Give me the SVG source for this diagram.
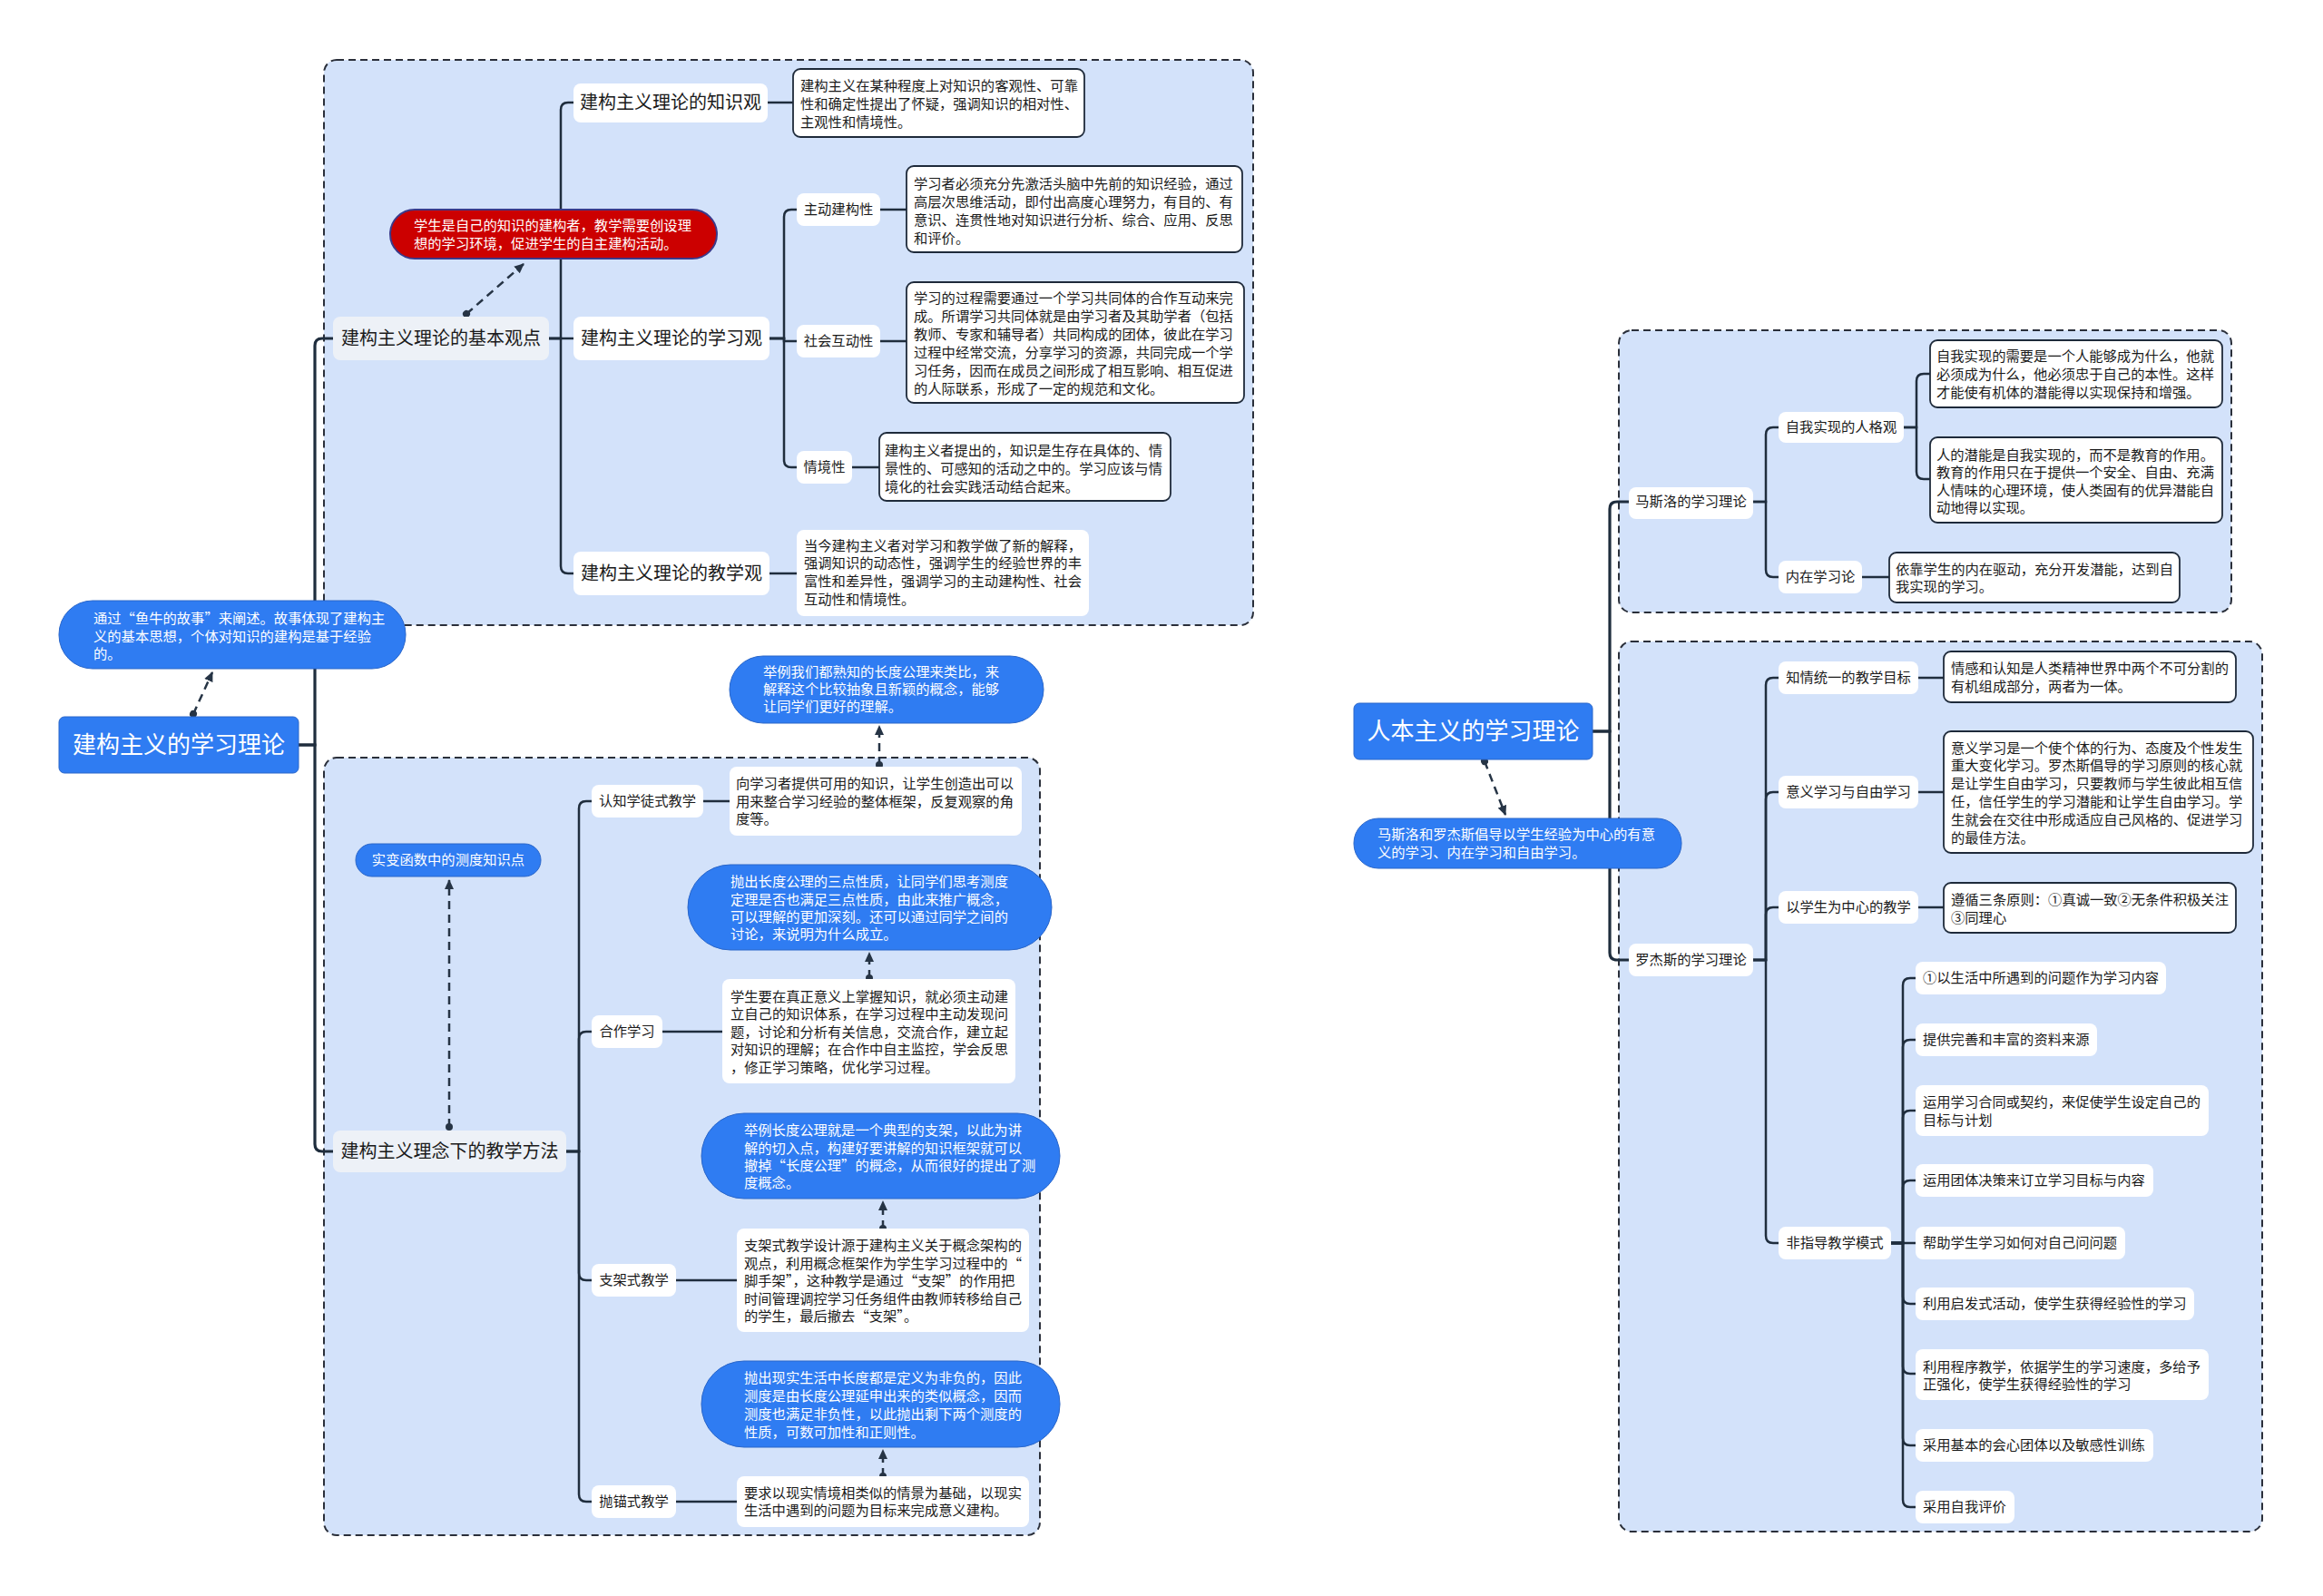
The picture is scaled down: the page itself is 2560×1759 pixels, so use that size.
<svg xmlns="http://www.w3.org/2000/svg" width="2560" height="1759" viewBox="0 0 2560 1759">
<style>
.bg{fill:#ffffff}
.grp{fill:#d3e2fa;stroke:#2a2f3a;stroke-width:2;stroke-dasharray:8 5}
.lbl{fill:#ffffff}
.lblg{fill:#edf1f7}
.desc{fill:#ffffff;stroke:#1e2a3a;stroke-width:1.8}
.plain{fill:#ffffff}
.blue{fill:#2f7cf2;stroke:#2a66c9;stroke-width:1}
.red{fill:#cc0000;stroke:#3b3a8a;stroke-width:2}
text{font-family:"Noto Sans CJK SC","Noto Sans",sans-serif}
.t15{font-size:15.3px;fill:#1a1a1a}
.w15{font-size:15.3px;fill:#ffffff}
.t20{font-size:20px;fill:#1a1a1a}
.t26{font-size:26px;fill:#ffffff}
.mid{text-anchor:middle}
.ln{fill:none;stroke:#1f2d3d;stroke-width:2.5}
.ln3{fill:none;stroke:#1f2d3d;stroke-width:3.2}
.dash{fill:none;stroke:#263445;stroke-width:2.5;stroke-dasharray:9 6;marker-start:url(#dot);marker-end:url(#arr)}
</style>
<defs>
<marker id="arr" markerUnits="userSpaceOnUse" markerWidth="12" markerHeight="12" viewBox="0 0 12 12" refX="10" refY="6" orient="auto"><path d="M0 1 L11 6 L0 11 Z" fill="#263445"/></marker>
<marker id="dot" markerUnits="userSpaceOnUse" markerWidth="10" markerHeight="10" viewBox="0 0 10 10" refX="5" refY="5" orient="auto"><circle cx="5" cy="5" r="4" fill="#263445"/></marker>
</defs>
<rect class="bg" x="0" y="0" width="2560" height="1759"/>

<g id="group-top-left"><rect class="grp" x="357" y="66" width="1024" height="623" rx="14"/></g>
<g id="group-bottom-left"><rect class="grp" x="357" y="835" width="789" height="857" rx="14"/></g>
<g id="group-top-right"><rect class="grp" x="1784" y="364" width="675" height="311" rx="14"/></g>
<g id="group-bottom-right"><rect class="grp" x="1784" y="707" width="709" height="981" rx="14"/></g>

<g id="connectors">
<path class="ln3" d="M329 821 H347 V381 Q347 373 355 373 H367"/>
<path class="ln3" d="M329 821 H347 V1261 Q347 1269 355 1269 H367"/>
<path class="ln" d="M605 373 H618 V121 Q618 113 626 113 H632"/>
<path class="ln" d="M605 373 H632"/>
<path class="ln" d="M605 373 H618 V624 Q618 632 626 632 H632"/>
<path class="ln" d="M846 113 H874"/>
<path class="ln" d="M848 373 H864 V239 Q864 231 872 231 H878"/>
<path class="ln" d="M848 373 H864 V376 H878"/>
<path class="ln" d="M848 373 H864 V507 Q864 515 872 515 H878"/>
<path class="ln" d="M970 231 H999"/>
<path class="ln" d="M970 376 H999"/>
<path class="ln" d="M939 515 H969"/>
<path class="ln" d="M848 632 H878"/>
<path class="ln" d="M624 1269 H638 V891 Q638 883 646 883 H652"/>
<path class="ln" d="M624 1269 H638 V1145 Q638 1137 646 1137 H652"/>
<path class="ln" d="M624 1269 H638 V1403 Q638 1411 646 1411 H652"/>
<path class="ln" d="M624 1269 H638 V1647 Q638 1655 646 1655 H652"/>
<path class="ln" d="M775 883 H804"/>
<path class="ln" d="M730 1137 H796"/>
<path class="ln" d="M745 1411 H812"/>
<path class="ln" d="M745 1655 H812"/>
<path class="ln3" d="M1755 806 H1774 V561 Q1774 553 1782 553 H1795"/>
<path class="ln3" d="M1755 806 H1774 V1050 Q1774 1058 1782 1058 H1795"/>
<path class="ln" d="M1932 553 H1946 V479 Q1946 471 1954 471 H1960"/>
<path class="ln" d="M1932 553 H1946 V628 Q1946 636 1954 636 H1960"/>
<path class="ln" d="M2098 471 H2112 V420 Q2112 412 2120 412 H2127"/>
<path class="ln" d="M2098 471 H2112 V520 Q2112 528 2120 528 H2127"/>
<path class="ln" d="M2052 636 H2082"/>
<path class="ln" d="M1932 1058 H1946 V755 Q1946 747 1954 747 H1960"/>
<path class="ln" d="M1932 1058 H1946 V881 Q1946 873 1954 873 H1960"/>
<path class="ln" d="M1932 1058 H1946 V1008 Q1946 1000 1954 1000 H1960"/>
<path class="ln" d="M1932 1058 H1946 V1362 Q1946 1370 1954 1370 H1960"/>
<path class="ln" d="M2114 747 H2142"/>
<path class="ln" d="M2114 873 H2142"/>
<path class="ln" d="M2114 1000 H2142"/>
<path class="ln" d="M2084 1370 H2097 V1086 Q2097 1078 2105 1078 H2111"/>
<path class="ln" d="M2084 1370 H2097 V1154 Q2097 1146 2105 1146 H2111"/>
<path class="ln" d="M2084 1370 H2097 V1232 Q2097 1224 2105 1224 H2111"/>
<path class="ln" d="M2084 1370 H2097 V1309 Q2097 1301 2105 1301 H2111"/>
<path class="ln" d="M2084 1370 H2111"/>
<path class="ln" d="M2084 1370 H2097 V1429 Q2097 1437 2105 1437 H2111"/>
<path class="ln" d="M2084 1370 H2097 V1506 Q2097 1514 2105 1514 H2111"/>
<path class="ln" d="M2084 1370 H2097 V1585 Q2097 1593 2105 1593 H2111"/>
<path class="ln" d="M2084 1370 H2097 V1653 Q2097 1661 2105 1661 H2111"/>
<path class="dash" d="M213 787 L234 741"/>
<path class="dash" d="M514 346 L577 291"/>
<path class="dash" d="M495 1242 L495 970"/>
<path class="dash" d="M969 843 L969 800"/>
<path class="dash" d="M958 1078 L958 1050"/>
<path class="dash" d="M973 1354 L973 1324"/>
<path class="dash" d="M973 1627 L973 1598"/>
<path class="dash" d="M1636 839 L1659 898"/>
</g>

<g id="root-left"><rect class="blue" x="65" y="790" width="264" height="62" rx="6"/><text class="t26 mid" x="197" y="830">建构主义的学习理论</text></g>
<g id="callout-fish"><rect class="blue" x="65" y="662" width="382" height="75" rx="37"/>
<text class="w15" x="103" y="687">通过“鱼牛的故事”来阐述。故事体现了建构主</text>
<text class="w15" x="103" y="707">义的基本思想，个体对知识的建构是基于经验</text>
<text class="w15" x="103" y="726">的。</text></g>

<g id="basic"><rect class="lblg" x="367" y="349" width="238" height="48" rx="8"/><text class="t20 mid" x="486" y="380">建构主义理论的基本观点</text></g>
<g id="callout-red"><rect class="red" x="430" y="231" width="360" height="54" rx="27"/>
<text class="w15" x="456" y="254">学生是自己的知识的建构者，教学需要创设理</text>
<text class="w15" x="456" y="274">想的学习环境，促进学生的自主建构活动。</text></g>

<g id="knowledge"><rect class="lbl" x="632" y="92" width="214" height="43" rx="8"/><text class="t20 mid" x="739" y="120">建构主义理论的知识观</text></g>
<g id="knowledge-desc"><rect class="desc" x="874" y="76" width="321" height="75" rx="8"/>
<text class="t15" x="882" y="100">建构主义在某种程度上对知识的客观性、可靠</text>
<text class="t15" x="882" y="120">性和确定性提出了怀疑，强调知识的相对性、</text>
<text class="t15" x="882" y="140">主观性和情境性。</text></g>

<g id="learning"><rect class="lbl" x="632" y="349" width="216" height="48" rx="8"/><text class="t20 mid" x="740" y="380">建构主义理论的学习观</text></g>
<g id="active"><rect class="lbl" x="878" y="213" width="92" height="36" rx="8"/><text class="t15 mid" x="924" y="236">主动建构性</text></g>
<g id="active-desc"><rect class="desc" x="999" y="183" width="370" height="95" rx="8"/>
<text class="t15" x="1007" y="208">学习者必须充分先激活头脑中先前的知识经验，通过</text>
<text class="t15" x="1007" y="228">高层次思维活动，即付出高度心理努力，有目的、有</text>
<text class="t15" x="1007" y="248">意识、连贯性地对知识进行分析、综合、应用、反思</text>
<text class="t15" x="1007" y="268">和评价。</text></g>
<g id="social"><rect class="lbl" x="878" y="358" width="92" height="36" rx="8"/><text class="t15 mid" x="924" y="381">社会互动性</text></g>
<g id="social-desc"><rect class="desc" x="999" y="311" width="372" height="133" rx="8"/>
<text class="t15" x="1007" y="334">学习的过程需要通过一个学习共同体的合作互动来完</text>
<text class="t15" x="1007" y="354">成。所谓学习共同体就是由学习者及其助学者（包括</text>
<text class="t15" x="1007" y="374">教师、专家和辅导者）共同构成的团体，彼此在学习</text>
<text class="t15" x="1007" y="394">过程中经常交流，分享学习的资源，共同完成一个学</text>
<text class="t15" x="1007" y="414">习任务，因而在成员之间形成了相互影响、相互促进</text>
<text class="t15" x="1007" y="434">的人际联系，形成了一定的规范和文化。</text></g>
<g id="situated"><rect class="lbl" x="878" y="497" width="61" height="36" rx="8"/><text class="t15 mid" x="908.5" y="520">情境性</text></g>
<g id="situated-desc"><rect class="desc" x="969" y="477" width="321" height="75" rx="8"/>
<text class="t15" x="975" y="502">建构主义者提出的，知识是生存在具体的、情</text>
<text class="t15" x="975" y="522">景性的、可感知的活动之中的。学习应该与情</text>
<text class="t15" x="975" y="542">境化的社会实践活动结合起来。</text></g>

<g id="teaching"><rect class="lbl" x="632" y="608" width="216" height="48" rx="8"/><text class="t20 mid" x="740" y="639">建构主义理论的教学观</text></g>
<g id="teaching-desc"><rect class="plain" x="878" y="584" width="322" height="95" rx="8"/>
<text class="t15" x="886" y="607">当今建构主义者对学习和教学做了新的解释，</text>
<text class="t15" x="886" y="626">强调知识的动态性，强调学生的经验世界的丰</text>
<text class="t15" x="886" y="646">富性和差异性，强调学习的主动建构性、社会</text>
<text class="t15" x="886" y="666">互动性和情境性。</text></g>

<g id="methods"><rect class="lblg" x="367" y="1246" width="257" height="46" rx="8"/><text class="t20 mid" x="495.5" y="1276">建构主义理念下的教学方法</text></g>
<g id="callout-measure"><rect class="blue" x="392" y="930" width="204" height="36" rx="18"/><text class="w15 mid" x="494" y="953">实变函数中的测度知识点</text></g>

<g id="cognitive"><rect class="lbl" x="652" y="865" width="123" height="36" rx="8"/><text class="t15 mid" x="713.5" y="888">认知学徒式教学</text></g>
<g id="cognitive-desc"><rect class="plain" x="804" y="845" width="322" height="76" rx="8"/>
<text class="t15" x="811" y="869">向学习者提供可用的知识，让学生创造出可以</text>
<text class="t15" x="811" y="889">用来整合学习经验的整体框架，反复观察的角</text>
<text class="t15" x="811" y="908">度等。</text></g>
<g id="callout-1"><rect class="blue" x="804" y="723" width="346" height="74" rx="37"/>
<text class="w15" x="841" y="746">举例我们都熟知的长度公理来类比，来</text>
<text class="w15" x="841" y="765">解释这个比较抽象且新颖的概念，能够</text>
<text class="w15" x="841" y="784">让同学们更好的理解。</text></g>

<g id="callout-2"><rect class="blue" x="758" y="953" width="401" height="94" rx="47"/>
<text class="w15" x="805" y="977">抛出长度公理的三点性质，让同学们思考测度</text>
<text class="w15" x="805" y="997">定理是否也满足三点性质，由此来推广概念，</text>
<text class="w15" x="805" y="1016">可以理解的更加深刻。还可以通过同学之间的</text>
<text class="w15" x="805" y="1035">讨论，来说明为什么成立。</text></g>
<g id="cooperative"><rect class="lbl" x="652" y="1119" width="78" height="36" rx="8"/><text class="t15 mid" x="691" y="1142">合作学习</text></g>
<g id="cooperative-desc"><rect class="plain" x="796" y="1079" width="323" height="115" rx="8"/>
<text class="t15" x="805" y="1104">学生要在真正意义上掌握知识，就必须主动建</text>
<text class="t15" x="805" y="1123">立自己的知识体系，在学习过程中主动发现问</text>
<text class="t15" x="805" y="1143">题，讨论和分析有关信息，交流合作，建立起</text>
<text class="t15" x="805" y="1162">对知识的理解；在合作中自主监控，学会反思</text>
<text class="t15" x="805" y="1182">，修正学习策略，优化学习过程。</text></g>

<g id="callout-3"><rect class="blue" x="773" y="1227" width="395" height="94" rx="47"/>
<text class="w15" x="820" y="1251">举例长度公理就是一个典型的支架，以此为讲</text>
<text class="w15" x="820" y="1271">解的切入点，构建好要讲解的知识框架就可以</text>
<text class="w15" x="820" y="1290">撤掉“长度公理”的概念，从而很好的提出了测</text>
<text class="w15" x="820" y="1309">度概念。</text></g>
<g id="scaffold"><rect class="lbl" x="652" y="1393" width="93" height="36" rx="8"/><text class="t15 mid" x="698.5" y="1416">支架式教学</text></g>
<g id="scaffold-desc"><rect class="plain" x="812" y="1354" width="322" height="114" rx="8"/>
<text class="t15" x="820" y="1378">支架式教学设计源于建构主义关于概念架构的</text>
<text class="t15" x="820" y="1398">观点，利用概念框架作为学生学习过程中的“</text>
<text class="t15" x="820" y="1417">脚手架”，这种教学是通过“支架”的作用把</text>
<text class="t15" x="820" y="1437">时间管理调控学习任务组件由教师转移给自己</text>
<text class="t15" x="820" y="1456">的学生，最后撤去“支架”。</text></g>

<g id="callout-4"><rect class="blue" x="773" y="1500" width="395" height="95" rx="47"/>
<text class="w15" x="820" y="1524">抛出现实生活中长度都是定义为非负的，因此</text>
<text class="w15" x="820" y="1544">测度是由长度公理延申出来的类似概念，因而</text>
<text class="w15" x="820" y="1564">测度也满足非负性，以此抛出剩下两个测度的</text>
<text class="w15" x="820" y="1584">性质，可数可加性和正则性。</text></g>
<g id="anchored"><rect class="lbl" x="652" y="1637" width="93" height="36" rx="8"/><text class="t15 mid" x="698.5" y="1660">抛锚式教学</text></g>
<g id="anchored-desc"><rect class="plain" x="812" y="1627" width="322" height="56" rx="8"/>
<text class="t15" x="820" y="1651">要求以现实情境相类似的情景为基础，以现实</text>
<text class="t15" x="820" y="1670">生活中遇到的问题为目标来完成意义建构。</text></g>

<g id="root-right"><rect class="blue" x="1492" y="775" width="263" height="62" rx="6"/><text class="t26 mid" x="1623.5" y="815">人本主义的学习理论</text></g>
<g id="callout-right"><rect class="blue" x="1492" y="902" width="361" height="55" rx="27"/>
<text class="w15" x="1518" y="925">马斯洛和罗杰斯倡导以学生经验为中心的有意</text>
<text class="w15" x="1518" y="945">义的学习、内在学习和自由学习。</text></g>

<g id="maslow"><rect class="lbl" x="1795" y="537" width="137" height="35" rx="8"/><text class="t15 mid" x="1863.5" y="558">马斯洛的学习理论</text></g>
<g id="self-actualization"><rect class="lbl" x="1960" y="454" width="138" height="34" rx="8"/><text class="t15 mid" x="2029" y="476">自我实现的人格观</text></g>
<g id="self-desc-1"><rect class="desc" x="2127" y="375" width="322" height="74" rx="8"/>
<text class="t15" x="2134" y="398">自我实现的需要是一个人能够成为什么，他就</text>
<text class="t15" x="2134" y="418">必须成为什么，他必须忠于自己的本性。这样</text>
<text class="t15" x="2134" y="438">才能使有机体的潜能得以实现保持和增强。</text></g>
<g id="self-desc-2"><rect class="desc" x="2127" y="482" width="322" height="94" rx="8"/>
<text class="t15" x="2134" y="507">人的潜能是自我实现的，而不是教育的作用。</text>
<text class="t15" x="2134" y="526">教育的作用只在于提供一个安全、自由、充满</text>
<text class="t15" x="2134" y="546">人情味的心理环境，使人类固有的优异潜能自</text>
<text class="t15" x="2134" y="565">动地得以实现。</text></g>
<g id="intrinsic"><rect class="lbl" x="1960" y="618" width="92" height="36" rx="8"/><text class="t15 mid" x="2006" y="641">内在学习论</text></g>
<g id="intrinsic-desc"><rect class="desc" x="2082" y="609" width="320" height="55" rx="8"/>
<text class="t15" x="2089" y="633">依靠学生的内在驱动，充分开发潜能，达到自</text>
<text class="t15" x="2089" y="652">我实现的学习。</text></g>

<g id="rogers"><rect class="lbl" x="1795" y="1040" width="137" height="36" rx="8"/><text class="t15 mid" x="1863.5" y="1063">罗杰斯的学习理论</text></g>
<g id="unity"><rect class="lbl" x="1960" y="729" width="154" height="36" rx="8"/><text class="t15 mid" x="2037" y="752">知情统一的教学目标</text></g>
<g id="unity-desc"><rect class="desc" x="2142" y="718" width="322" height="56" rx="8"/>
<text class="t15" x="2150" y="742">情感和认知是人类精神世界中两个不可分割的</text>
<text class="t15" x="2150" y="762">有机组成部分，两者为一体。</text></g>
<g id="meaningful"><rect class="lbl" x="1960" y="855" width="154" height="36" rx="8"/><text class="t15 mid" x="2037" y="878">意义学习与自由学习</text></g>
<g id="meaningful-desc"><rect class="desc" x="2142" y="806" width="341" height="134" rx="8"/>
<text class="t15" x="2150" y="830">意义学习是一个使个体的行为、态度及个性发生</text>
<text class="t15" x="2150" y="849">重大变化学习。罗杰斯倡导的学习原则的核心就</text>
<text class="t15" x="2150" y="869">是让学生自由学习，只要教师与学生彼此相互信</text>
<text class="t15" x="2150" y="889">任，信任学生的学习潜能和让学生自由学习。学</text>
<text class="t15" x="2150" y="909">生就会在交往中形成适应自己风格的、促进学习</text>
<text class="t15" x="2150" y="929">的最佳方法。</text></g>
<g id="student-centered"><rect class="lbl" x="1960" y="982" width="154" height="36" rx="8"/><text class="t15 mid" x="2037" y="1005">以学生为中心的教学</text></g>
<g id="student-centered-desc"><rect class="desc" x="2142" y="973" width="322" height="55" rx="8"/>
<text class="t15" x="2150" y="997">遵循三条原则：①真诚一致②无条件积极关注</text>
<text class="t15" x="2150" y="1017">③同理心</text></g>
<g id="nondirective"><rect class="lbl" x="1960" y="1352" width="124" height="36" rx="8"/><text class="t15 mid" x="2022" y="1375">非指导教学模式</text></g>
<g id="nd-1"><rect class="lbl" x="2111" y="1060" width="276" height="36" rx="8"/><text class="t15" x="2119" y="1083">①以生活中所遇到的问题作为学习内容</text></g>
<g id="nd-2"><rect class="lbl" x="2111" y="1128" width="200" height="36" rx="8"/><text class="t15" x="2119" y="1151">提供完善和丰富的资料来源</text></g>
<g id="nd-3"><rect class="lbl" x="2111" y="1196" width="323" height="56" rx="8"/><text class="t15" x="2119" y="1220">运用学习合同或契约，来促使学生设定自己的</text><text class="t15" x="2119" y="1240">目标与计划</text></g>
<g id="nd-4"><rect class="lbl" x="2111" y="1283" width="262" height="36" rx="8"/><text class="t15" x="2119" y="1306">运用团体决策来订立学习目标与内容</text></g>
<g id="nd-5"><rect class="lbl" x="2111" y="1352" width="231" height="36" rx="8"/><text class="t15" x="2119" y="1375">帮助学生学习如何对自己问问题</text></g>
<g id="nd-6"><rect class="lbl" x="2111" y="1419" width="307" height="36" rx="8"/><text class="t15" x="2119" y="1442">利用启发式活动，使学生获得经验性的学习</text></g>
<g id="nd-7"><rect class="lbl" x="2111" y="1487" width="323" height="56" rx="8"/><text class="t15" x="2119" y="1512">利用程序教学，依据学生的学习速度，多给予</text><text class="t15" x="2119" y="1531">正强化，使学生获得经验性的学习</text></g>
<g id="nd-8"><rect class="lbl" x="2111" y="1575" width="262" height="36" rx="8"/><text class="t15" x="2119" y="1598">采用基本的会心团体以及敏感性训练</text></g>
<g id="nd-9"><rect class="lbl" x="2111" y="1643" width="109" height="36" rx="8"/><text class="t15" x="2119" y="1666">采用自我评价</text></g>
</svg>
